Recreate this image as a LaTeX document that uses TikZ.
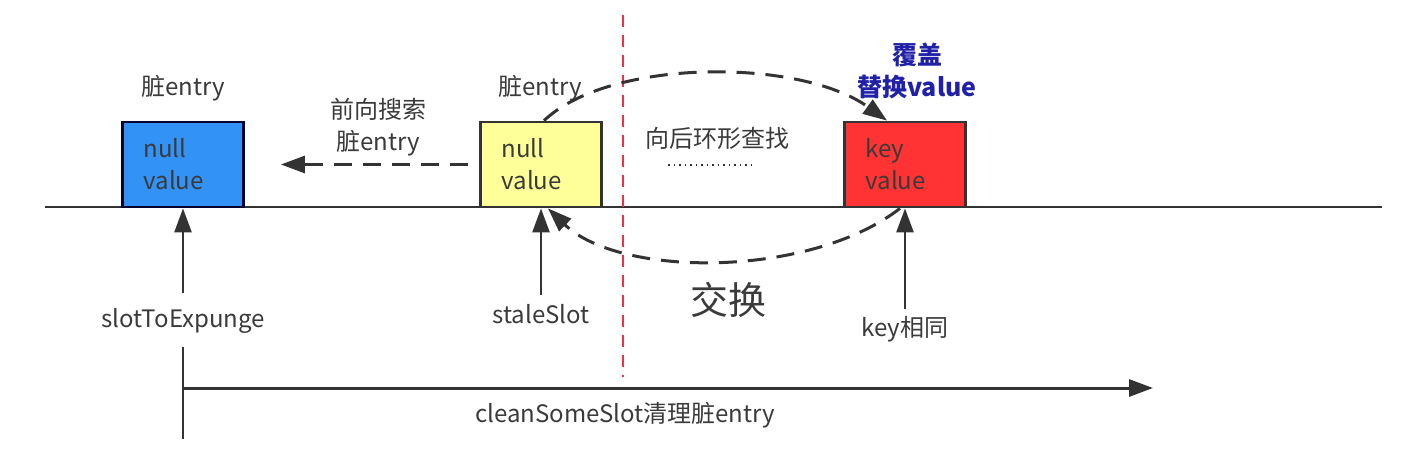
\documentclass[tikz,border=0pt]{standalone}
\usepackage{fontspec}
\setmainfont{Noto Sans CJK SC}
\usetikzlibrary{arrows.meta,positioning}

\definecolor{txtgray}{HTML}{3A3A3A}
\definecolor{linegray}{HTML}{333333}
\definecolor{slotblue}{HTML}{3392F5}
\definecolor{slotyellow}{HTML}{FFFF99}
\definecolor{slotred}{HTML}{FF3333}
\definecolor{noteblue}{HTML}{2020A8}
\definecolor{splitred}{HTML}{F03048}

\begin{document}
\begin{tikzpicture}[%
        x=1pt, y=-1pt,
        >={Triangle[length=24pt,width=17pt]},
        font=\fontsize{24pt}{32pt}\selectfont,
        every node/.style={text=txtgray},
        slot/.style={draw=linegray, fill=#1, line width=2.8pt,
                     minimum height=85pt, text width=79pt,
                     inner xsep=21pt, align=left},
        dashedarrow/.style={->, draw=linegray, line width=3pt,
                            dash pattern=on 18pt off 11pt},
        pointer/.style={->, draw=linegray, line width=2.5pt}
        ]

        \useasboundingbox (0,0) rectangle (1404,455);

        % table line and the three slots
        \coordinate (base l) at (45,207);
        \coordinate (base r) at (1382,207);
        \draw[linegray, line width=2.5pt] (base l) -- (base r);

        \node[slot=slotblue, draw=black!80!blue] (blue) at (183,164.5) {null\\value};
        \node[slot=slotyellow] (yellow) at (541,164.5) {null\\value};
        \node[slot=slotred] (red) at (905,164.5) {key\\value};

        \node (dirty1) at (183,88) {脏entry};
        \node (dirty2) at (540,88) {脏entry};

        % split between forward and backward search
        \coordinate (split top) at (623,15);
        \coordinate (split bot) at (623,377);
        \draw[splitred, line width=2.5pt, dash pattern=on 12pt off 8pt] (split top) -- (split bot);

        % forward search
        \node[align=center] (forward) at (378,127) {前向搜索\\脏entry};
        \draw[dashedarrow] ([xshift=-11pt]yellow.west) -- ([xshift=36pt]blue.east);

        % backward search
        \node (backward) at (717,138) {向后环形查找};
        \coordinate (dots l) at (668,165);
        \coordinate (dots r) at (755,165);
        \draw[linegray, line width=1.2pt, dash pattern=on 1.5pt off 4pt] (dots l) -- (dots r);

        \node[align=center, text=noteblue, font=\fontsize{25pt}{32pt}\selectfont\bfseries]
             (replace) at (917,71) {覆盖\\替换value};

        \draw[dashedarrow] ([xshift=3pt]yellow.north) .. controls (610,58) and (800,58) .. ([xshift=-18pt]red.north);
        \draw[dashedarrow] ([xshift=-5pt]red.south) .. controls (810,278) and (620,278) .. ([xshift=7pt]yellow.south);
        \node[font=\fontsize{38pt}{44pt}\selectfont] (swap) at (728,300) {交换};

        % pointers
        \node (expunge) at (183,321) {slotToExpunge};
        \node (stale) at (541,314) {staleSlot};
        \node (same) at (905,329) {key相同};

        \draw[pointer, shorten <=12pt] (expunge.north) -- (blue.south);
        \draw[pointer, shorten <=6pt] (stale.north) -- (yellow.south);
        \draw[pointer, shorten <=4pt] (same.north) -- (red.south);

        % cleanup run
        \coordinate (clean tail) at (183,439);
        \coordinate (clean start) at (183,388);
        \coordinate (clean end) at (1153,388);
        \draw[linegray, line width=2.5pt, shorten <=10pt] (expunge.south) -- (clean tail);
        \draw[->, linegray, line width=3pt] (clean start) -- (clean end);
        \node (clean) at (625,415) {cleanSomeSlot清理脏entry};

\end{tikzpicture}
\end{document}
